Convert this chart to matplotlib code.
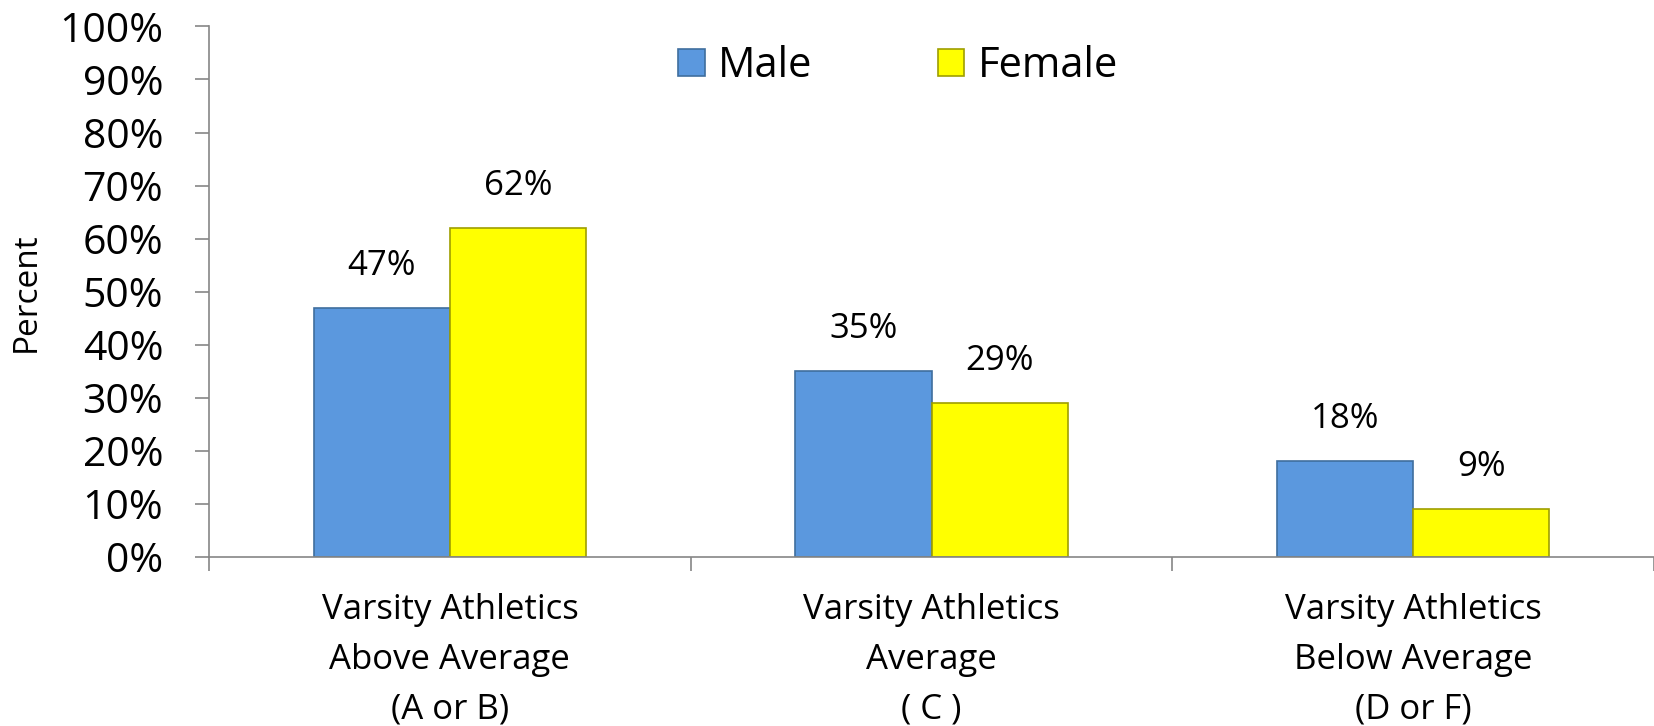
import numpy as np
import matplotlib
matplotlib.use('Agg')
import matplotlib.pyplot as plt
from matplotlib.ticker import PercentFormatter

plt.rcParams['font.family'] = ['Open Sans', 'DejaVu Sans']

categories = ['Varsity Athletics\nAbove Average\n(A or B)',
              'Varsity Athletics\nAverage\n( C )',
              'Varsity Athletics\nBelow Average\n(D or F)']
male = [47, 35, 18]
female = [62, 29, 9]

BLUE = '#5B98DE'
YELLOW = '#FFFF00'
AXIS = '#868686'
W = 0.283

fig = plt.figure(figsize=(16.54, 7.26), dpi=100)
ax = fig.add_axes([0.1264, 0.2328, 0.8736, 0.7308])

x = np.arange(len(categories))
b1 = ax.bar(x - W/2, male, W, color=BLUE, edgecolor='#3F6E9E', linewidth=1.2, label='Male')
b2 = ax.bar(x + W/2, female, W, color=YELLOW, edgecolor='#9E9E00', linewidth=1.2, label='Female')

for bars, vals in ((b1, male), (b2, female)):
    for r, v in zip(bars, vals):
        ax.annotate(f'{v}%', (r.get_x() + r.get_width()/2, v),
                    xytext=(0, 18), textcoords='offset points',
                    ha='center', va='bottom', fontsize=25)

ax.set_xlim(-0.5, 2.5)
ax.set_ylim(0, 100)
ax.set_yticks(np.arange(0, 101, 10))
ax.yaxis.set_major_formatter(PercentFormatter(decimals=0))
ax.tick_params(axis='y', labelsize=29.5, length=10, width=1.2, color=AXIS, pad=23)

ax.set_xticks(x)
ax.set_xticklabels(categories, fontsize=25, linespacing=1.6)
ax.set_xticks(np.arange(-0.5, 2.6, 1), minor=True)
ax.tick_params(axis='x', which='major', length=0, pad=26)
ax.tick_params(axis='x', which='minor', length=10, width=1.2, color=AXIS)

for s in ('top', 'right'):
    ax.spines[s].set_visible(False)
for s in ('left', 'bottom'):
    ax.spines[s].set_color(AXIS)
    ax.spines[s].set_linewidth(1.2)

ax.set_ylabel('Percent', fontsize=24, labelpad=8)
ax.yaxis.set_label_coords(-0.115, 0.5)

fig.legend(handles=[b1, b2], loc='center', bbox_to_anchor=(0.543, 0.909),
           ncol=2, frameon=False, fontsize=30, handlelength=0.63, handleheight=0.63,
           handletextpad=0.33, columnspacing=3.0)

fig.savefig('out.png', dpi=100)
